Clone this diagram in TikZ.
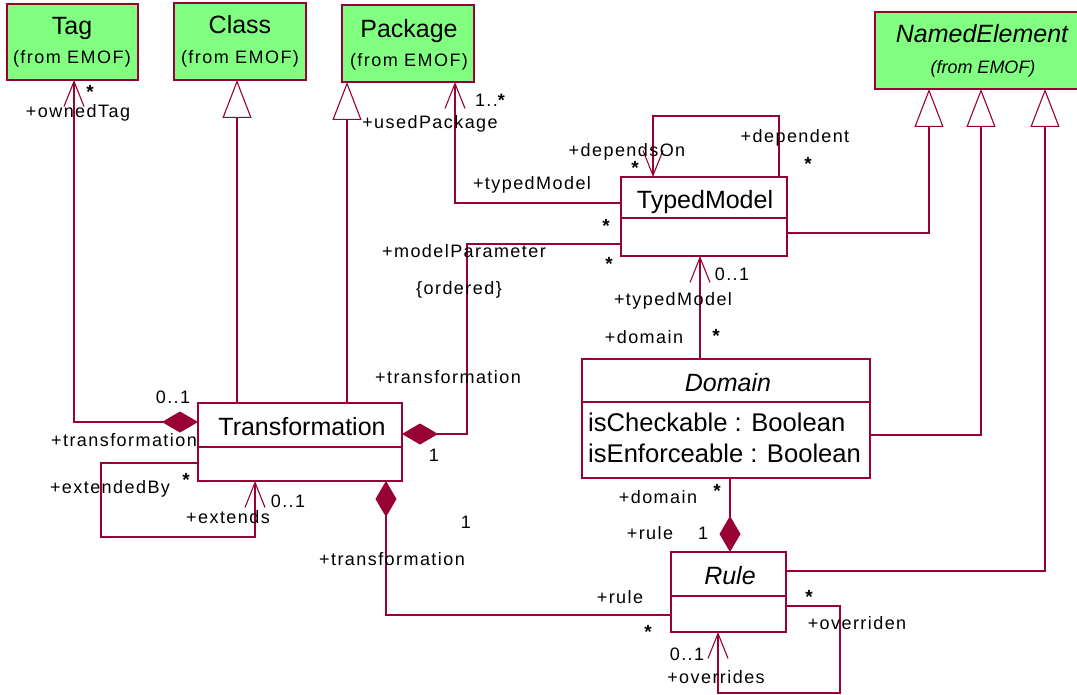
\documentclass[tikz,border=0pt]{standalone}
\usepackage{fontspec}
\setmainfont{Liberation Sans}
\newfontfamily\lblf[LetterSpace=8]{Liberation Sans}
\usetikzlibrary{arrows.meta}
\definecolor{ln}{RGB}{153,0,51}
\definecolor{gr}{RGB}{128,255,128}
\begin{document}
\begin{tikzpicture}[x=1pt,y=-1pt,
  box/.style={draw=ln, line width=1.1pt, inner sep=0pt, outer sep=0pt, anchor=north west},
  ext/.style={box, fill=gr},
  ttl/.style={inner sep=0pt, text height=18pt, text depth=0pt, font=\fontsize{25}{25}\selectfont},
  attr/.style={inner sep=0pt, text height=18pt, text depth=0pt, anchor=west, font=\fontsize{25.6}{25.6}\selectfont},
  lbl/.style={inner sep=0pt, text height=13pt, text depth=0pt, font=\lblf\fontsize{18}{18}\selectfont},
  star/.style={inner sep=0pt, text height=13pt, text depth=0pt, font=\fontsize{19}{19}\selectfont\bfseries},
  con/.style={draw=ln, line width=1.1pt},
  barb/.style={con, -{Straight Barb[length=25pt,width=20pt]}},
  gen/.style={con, -{Triangle[open,length=38pt,width=29pt]}},
  dia/.style={con, {Diamond[length=36pt,width=21pt]}-},
  diaend/.style={con, -{Diamond[length=36pt,width=21pt]}},
  diabarb/.style={con, {Diamond[length=36pt,width=21pt]}-{Straight Barb[length=25pt,width=20pt]}},
  divl/.style={draw=ln, line width=1.1pt}
]
\useasboundingbox (0,0) rectangle (1077,695);

% external classes
\node[ext, minimum width=131pt, minimum height=76pt] (tag) at (7,4) {};
\node[ext, minimum width=132pt, minimum height=77pt] (cls) at (174,3) {};
\node[ext, minimum width=132pt, minimum height=77pt] (pkg) at (342,5) {};
\node[ext, minimum width=215pt, minimum height=77pt] (ne) at (875,12) {};
\node[ttl] (tagT) at (72,26) {Tag};
\node[lbl] (tagF) at (72,57) {(from EMOF)};
\node[ttl] (clsT) at (240,25) {Class};
\node[lbl] (clsF) at (240,57) {(from EMOF)};
\node[ttl] (pkgT) at (409,29) {Package};
\node[lbl] (pkgF) at (409,60) {(from EMOF)};
\node[ttl] (neT) at (982,34) {\itshape NamedElement};
\node[inner sep=0pt, text height=13pt, text depth=0pt, font=\fontsize{18}{18}\selectfont\itshape] (neF) at (983,67) {(from EMOF)};

% classes
\node[box, minimum width=166pt, minimum height=79pt] (tm) at (621,177) {};
\draw[divl] (tm.west |- 0,218) -- (tm.east |- 0,218);
\node[ttl] (tmT) at (705,200) {TypedModel};

\node[box, minimum width=204pt, minimum height=78pt] (tr) at (198,403) {};
\draw[divl] (tr.west |- 0,447) -- (tr.east |- 0,447);
\node[ttl] (trT) at (302,426) {Transformation};

\node[box, minimum width=288pt, minimum height=119pt] (dom) at (582,359) {};
\draw[divl] (dom.west |- 0,402) -- (dom.east |- 0,402);
\node[ttl] (domT) at (728,382) {\itshape Domain};
\node[attr] (domA1) at (588,422) {isCheckable : Boolean};
\node[attr] (domA2) at (588,453) {isEnforceable : Boolean};

\node[box, minimum width=115pt, minimum height=80pt] (rule) at (671,552) {};
\draw[divl] (rule.west |- 0,596) -- (rule.east |- 0,596);
\node[ttl] (ruleT) at (730,575) {\itshape Rule};

% connectors
\draw[diabarb] (tr.west |- 0,422) -- (74,422) -- (tag.south -| 74,0);
\draw[gen] (tr.north -| 237,0) -- (cls.south -| 237,0);
\draw[gen] (tr.north -| 347,0) -- (pkg.south -| 347,0);
\draw[barb] (tm.west |- 0,203) -- (455,203) -- (pkg.south -| 455,0);
\draw[barb] (tm.north -| 779,0) -- (779,116) -- (653,116) -- (tm.north -| 653,0);
\draw[dia] (tr.east |- 0,434) -- (467,434) -- (467,244) -- (tm.west |- 0,244);
\draw[gen] (tm.east |- 0,233) -- (929,233) -- (ne.south -| 929,0);
\draw[gen] (dom.east |- 0,435) -- (981,435) -- (ne.south -| 981,0);
\draw[gen] (rule.east |- 0,571) -- (1045,571) -- (ne.south -| 1045,0);
\draw[barb] (dom.north -| 700,0) -- (tm.south -| 700,0);
\draw[diaend] (dom.south -| 730,0) -- (rule.north -| 730,0);
\draw[dia] (tr.south -| 386,0) -- (386,615) -- (rule.west |- 0,615);
\draw[barb] (rule.east |- 0,606) -- (840,606) -- (840,693) -- (718,693) -- (rule.south -| 718,0);
\draw[barb] (tr.west |- 0,463) -- (101,463) -- (101,537) -- (255,537) -- (tr.south -| 255,0);

% labels
\node[star] (l1) at (90,92) {*};
\node[lbl] (l2) at (78,111) {+ownedTag};
\node[lbl] (l3) at (173,397) {0..1};
\node[lbl] (l4) at (124,440) {+transformation};
\node[lbl] (l5) at (430,122) {+usedPackage};
\node[lbl] (l6) at (490,100) {1..{\bfseries *}};
\node[lbl] (l7) at (532,183) {+typedModel};
\node[lbl] (l8) at (627,150) {+dependsOn};
\node[star] (l9) at (635,168) {*};
\node[lbl] (l10) at (795,136) {+dependent};
\node[star] (l11) at (808,164) {*};
\node[star] (l12) at (606,226) {*};
\node[star] (l13) at (609,264) {*};
\node[lbl] (l14) at (464,251) {+modelParameter};
\node[lbl] (l15) at (459,288) {\{ordered\}};
\node[lbl] (l16) at (448,377) {+transformation};
\node[lbl] (l17) at (434,455) {1};
\node[lbl] (l18) at (732,274) {0..1};
\node[lbl] (l19) at (673,299) {+typedModel};
\node[lbl] (l20) at (644,337) {+domain};
\node[star] (l21) at (716,336) {*};
\node[lbl] (l22) at (110,487) {+extendedBy};
\node[star] (l23) at (186,480) {*};
\node[lbl] (l24) at (288,501) {0..1};
\node[lbl] (l25) at (228,517) {+extends};
\node[lbl] (l26) at (466,522) {1};
\node[lbl] (l27) at (392,559) {+transformation};
\node[lbl] (l28) at (658,497) {+domain};
\node[star] (l29) at (717,491) {*};
\node[lbl] (l30) at (650,533) {+rule};
\node[lbl] (l31) at (703,533) {1};
\node[lbl] (l32) at (620,597) {+rule};
\node[star] (l33) at (648,632) {*};
\node[star] (l34) at (809,597) {*};
\node[lbl] (l35) at (857,623) {+overriden};
\node[lbl] (l36) at (687,654) {0..1};
\node[lbl] (l37) at (716,677) {+overrides};
\end{tikzpicture}
\end{document}
